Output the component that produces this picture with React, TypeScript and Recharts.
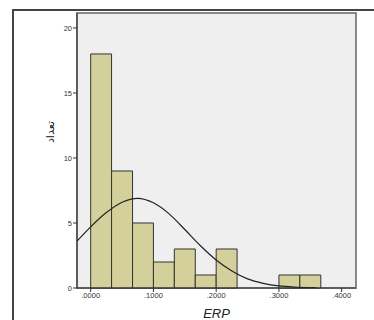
import React from 'react';
import {
    ComposedChart,
    Line,
    XAxis,
    YAxis,
    ReferenceArea,
} from 'recharts';

// histogram bins (ERP), width = 1/30
const binStarts = [0, 0.0333, 0.0667, 0.1, 0.1333, 0.1667, 0.2, 0.3, 0.3333];
const binEnds = [0.0333, 0.0667, 0.1, 0.1333, 0.1667, 0.2, 0.2333, 0.3333, 0.3667];
const binCounts = [18, 9, 5, 2, 3, 1, 3, 1, 1];

// normal curve
const curveX = [-0.0218, 0, 0.025, 0.05, 0.075, 0.1, 0.125, 0.15, 0.175, 0.2, 0.225, 0.25, 0.275, 0.3, 0.325, 0.35, 0.36];
const curveY = [3.6, 4.7, 5.8, 6.6, 6.9, 6.55, 5.7, 4.5, 3.25, 2.15, 1.3, 0.7, 0.36, 0.16, 0.07, 0.03, 0.02];

const xTicks = [0, 0.1, 0.2, 0.3, 0.4];
const yTicks = [0, 5, 10, 15, 20];

const FILL = '#d4d09b';
const BG = '#efefef';

const curveData = curveX.map((x, i) => ({ x, y: curveY[i] }));

export default function App() {
    return (
        <div style={{ position: 'absolute', left: 0, top: 0, width: 374, height: 320, background: '#fff' }}>
            <div
                style={{
                    position: 'absolute',
                    left: 12,
                    top: 9,
                    width: 362,
                    height: 311,
                    borderTop: '2px solid #444',
                    borderLeft: '2px solid #444',
                }}
            />
            <ComposedChart
                width={374}
                height={320}
                data={curveData}
                margin={{ top: 13, right: 18, left: 37, bottom: 0 }}
                style={{ position: 'absolute', left: 0, top: 0 }}
            >
                <rect x={77} y={13} width={279} height={275} fill={BG} stroke="#888" strokeWidth={2} />
                <XAxis
                    dataKey="x"
                    type="number"
                    domain={[-0.0218, 0.4228]}
                    ticks={xTicks}
                    allowDataOverflow
                    tickFormatter={(v: number) => v.toFixed(4).replace(/^0/, '')}
                    tick={{ fontSize: 7.5, fill: '#333', fontFamily: 'Arial, Liberation Sans, sans-serif' }}
                    tickSize={4}
                    tickMargin={1}
                    stroke="#333"
                    height={32}
                    label={{
                        value: 'ERP',
                        position: 'insideBottom',
                        offset: 2,
                        style: { fontSize: 13, fontStyle: 'italic', fill: '#222', fontFamily: 'Arial, Liberation Sans, sans-serif' },
                    }}
                />
                <YAxis
                    type="number"
                    domain={[0, 21.15]}
                    ticks={yTicks}
                    allowDataOverflow
                    tick={{ fontSize: 7.5, fill: '#333', fontFamily: 'Arial, Liberation Sans, sans-serif' }}
                    tickSize={4}
                    tickMargin={1}
                    stroke="#333"
                    width={40}
                    label={{
                        content: () => (
                            <text
                                x={49}
                                y={132}
                                transform="rotate(-90 49 132)"
                                textAnchor="middle"
                                dominantBaseline="central"
                                fontSize={11}
                                fill="#222"
                                fontFamily="Noto Sans, DejaVu Sans, sans-serif"
                            >
                                تعداد
                            </text>
                        ),
                    }}
                />
                {binCounts.map((c, i) => (
                    <ReferenceArea
                        key={i}
                        x1={binStarts[i]}
                        x2={binEnds[i]}
                        y1={0}
                        y2={c}
                        fill={FILL}
                        fillOpacity={1}
                        stroke="#333"
                        strokeWidth={1}
                        ifOverflow="visible"
                    />
                ))}
                <Line
                    dataKey="y"
                    type="monotone"
                    stroke="#222"
                    strokeWidth={1.2}
                    dot={false}
                    isAnimationActive={false}
                />
            </ComposedChart>
        </div>
    );
}
